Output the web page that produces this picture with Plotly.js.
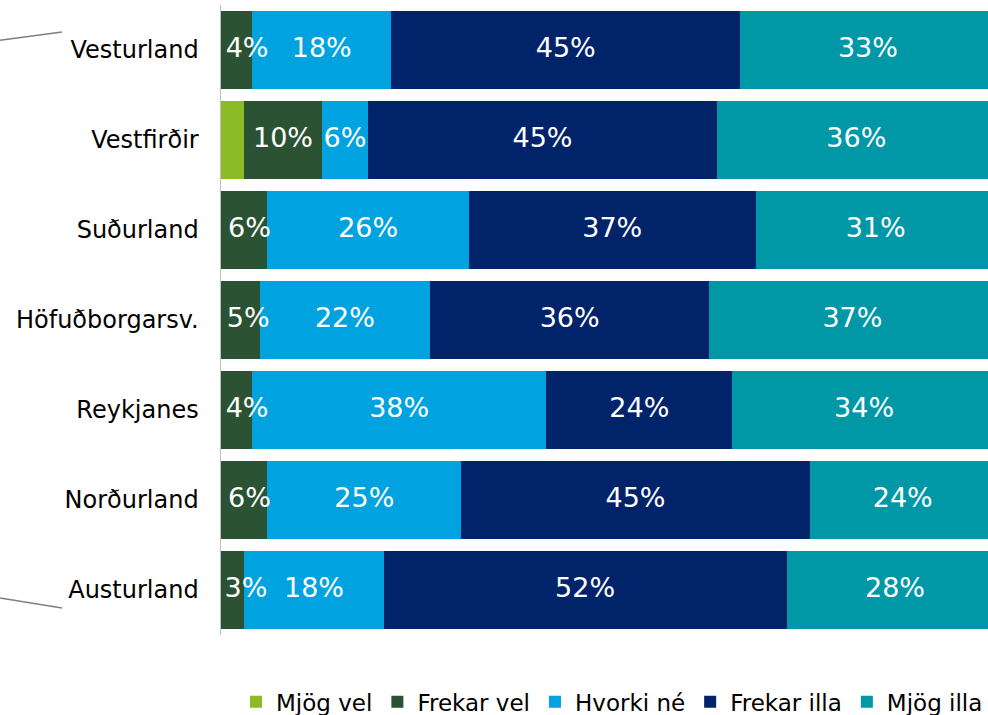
<!DOCTYPE html>
<html>
<head>
<meta charset="utf-8">
<script src="https://cdn.plot.ly/plotly-3.0.1.min.js"></script>
<style>html,body{margin:0;padding:0;background:#fff;}#chart{width:988px;height:715px;}</style>
</head>
<body>
<div id="chart"></div>
<script>
const regions = ["Vesturland", "Vestfirðir", "Suðurland", "Höfuðborgarsv.", "Reykjanes", "Norðurland", "Austurland"];
const mjogVel    = [null, 3, null, null, null, null, null];
const frekarVel  = [4, 10, 6, 5, 4, 6, 3];
const hvorkiNe   = [18, 6, 26, 22, 38, 25, 18];
const frekarIlla = [45, 45, 37, 36, 24, 45, 52];
const mjogIlla   = [33, 36, 31, 37, 34, 24, 28];

const seriesNames = ["Mjög vel", "Frekar vel", "Hvorki né", "Frekar illa", "Mjög illa"];
const seriesValues = [mjogVel, frekarVel, hvorkiNe, frekarIlla, mjogIlla];
const seriesColors = ["#8BBC26", "#2C5234", "#00A3E0", "#00236A", "#0098A7"];
const showLabels = [false, true, true, true, true];

const FONT = "DejaVu Sans, Verdana, sans-serif";

const barTraces = seriesNames.map((name, i) => ({
  type: "bar",
  orientation: "h",
  name: name,
  y: regions,
  x: seriesValues[i],
  marker: {color: seriesColors[i]},
  textposition: "none",
  hoverinfo: "skip",
  cliponaxis: true
}));

// label layer drawn above all bars so that labels may overlap neighbouring segments
const labelTraces = [];
const cum = regions.map(() => 0);
seriesValues.forEach((vals, i) => {
  const xs = [], ys = [], ts = [], pos = [];
  vals.forEach((v, j) => {
    const start = cum[j];
    const val = v == null ? 0 : v;
    cum[j] += val;
    if (!showLabels[i] || v == null) return;
    const narrow = start === 0 && val < 8;
    xs.push(narrow ? start + val * 0.15 : start + val / 2);
    ys.push(regions[j]);
    ts.push(v + "%");
    pos.push(narrow ? "middle right" : "middle center");
  });
  if (xs.length) {
    labelTraces.push({
      type: "scatter", mode: "text",
      x: xs, y: ys, text: ts, textposition: pos,
      textfont: {family: FONT, size: 27, color: "#ffffff"},
      showlegend: false, hoverinfo: "skip", cliponaxis: false
    });
  }
});

const layout = {
  width: 988, height: 715,
  margin: {l: 221, r: 0, t: 5, b: 80, pad: 0, autoexpand: false},
  barmode: "stack",
  bargap: 0.133,
  paper_bgcolor: "#ffffff",
  plot_bgcolor: "#ffffff",
  showlegend: true,
  font: {family: FONT, color: "#000000"},
  xaxis: {range: [0, 99], visible: false, fixedrange: true},
  yaxis: {
    autorange: "reversed",
    showline: true, linecolor: "#BFBFBF", linewidth: 1.5,
    showgrid: false, zeroline: false, ticks: "",
    ticklabelstandoff: 16,
    tickfont: {family: FONT, size: 24, color: "#000000"},
    fixedrange: true
  },
  legend: {
    orientation: "h",
    x: 1, xanchor: "right",
    y: -0.106, yanchor: "middle",
    font: {family: FONT, size: 23, color: "#000000"},
    itemwidth: 30,
    traceorder: "normal",
    bgcolor: "rgba(0,0,0,0)"
  },
  shapes: [
    {type: "line", xref: "paper", yref: "paper", x0: -0.288, y0: 0.944, x1: -0.2073, y1: 0.957, line: {color: "#7F7F7F", width: 1.5}},
    {type: "line", xref: "paper", yref: "paper", x0: -0.288, y0: 0.0587, x1: -0.2073, y1: 0.0429, line: {color: "#7F7F7F", width: 1.5}}
  ]
};

Plotly.newPlot("chart", barTraces.concat(labelTraces), layout, {displayModeBar: false, staticPlot: true});
</script>
</body>
</html>
